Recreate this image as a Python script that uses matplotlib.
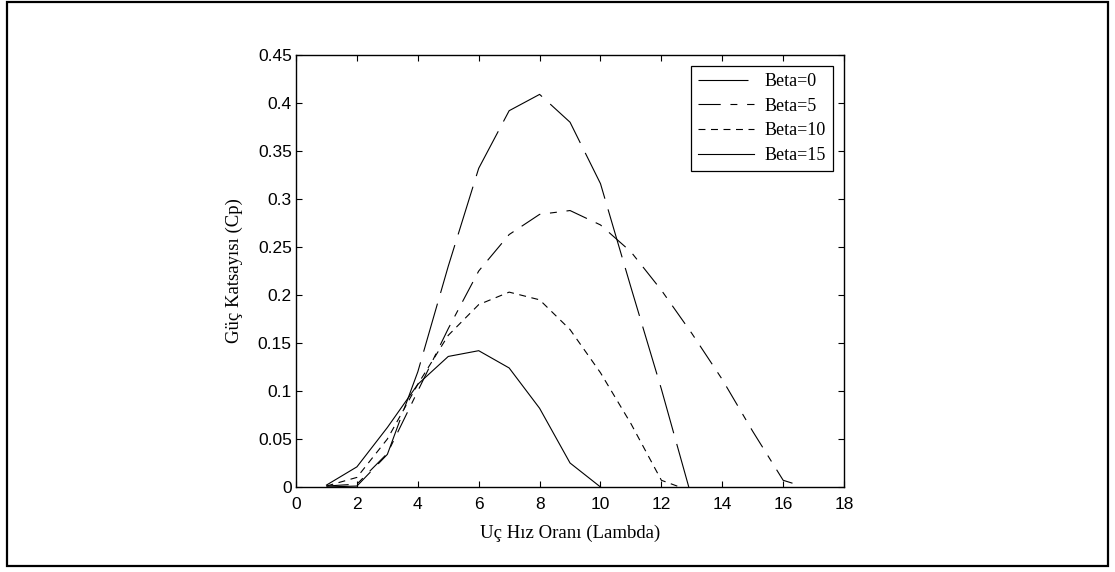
import matplotlib
matplotlib.use("Agg")
import matplotlib.pyplot as plt
from matplotlib.patches import Rectangle

# Cp vs tip speed ratio
lam_b0 = [1, 2, 3, 4, 5, 6, 7, 8, 9, 10, 11, 12, 12.9]
cp_b0 = [0.0, 0.001, 0.034, 0.12, 0.23, 0.332, 0.392, 0.409, 0.38, 0.316, 0.208, 0.102, 0.0]

lam_b5 = [1, 2, 3, 4, 5, 6, 7, 8, 9, 10, 11, 12, 13, 14, 15, 16, 16.6]
cp_b5 = [0.001, 0.003, 0.035, 0.1, 0.165, 0.225, 0.263, 0.284, 0.288, 0.273, 0.245,
         0.205, 0.16, 0.112, 0.058, 0.007, 0.001]

lam_b10 = [1, 2, 3, 4, 5, 6, 7, 8, 9, 10, 11, 12, 12.6]
cp_b10 = [0.001, 0.01, 0.05, 0.107, 0.158, 0.19, 0.203, 0.195, 0.164, 0.119, 0.066, 0.007, 0.0]

lam_b15 = [1, 2, 3, 4, 5, 6, 7, 8, 9, 10]
cp_b15 = [0.002, 0.021, 0.062, 0.107, 0.136, 0.142, 0.124, 0.082, 0.025, 0.0]

labels = ['Beta=0', 'Beta=5', 'Beta=10', 'Beta=15']

plt.rcParams['lines.scale_dashes'] = False

fig = plt.figure(figsize=(11.15, 5.72), dpi=100)
ax = fig.add_axes([0.2655, 0.1486, 0.4915, 0.7552])

lw = 0.8
ax.plot(lam_b0, cp_b0, color='k', lw=lw, dashes=(36, 8), label=labels[0])
ax.plot(lam_b5, cp_b5, color='k', lw=lw, dashes=(16, 7, 5, 7), label=labels[1])
ax.plot(lam_b10, cp_b10, color='k', lw=lw, dashes=(5, 4), label=labels[2])
ax.plot(lam_b15, cp_b15, color='k', lw=lw, linestyle='-', label=labels[3])

ax.set_xlim(0, 18)
ax.set_ylim(0, 0.45)
ax.set_xticks(range(0, 19, 2))
ax.set_yticks([0, 0.05, 0.1, 0.15, 0.2, 0.25, 0.3, 0.35, 0.4, 0.45])
ax.set_yticklabels(['0', '0.05', '0.1', '0.15', '0.2', '0.25', '0.3', '0.35', '0.4', '0.45'])
ax.tick_params(direction='in', top=True, right=True, length=4, width=0.8, labelsize=12.5)
ax.tick_params(axis='x', pad=7)
ax.tick_params(axis='y', pad=3)
for lbl in ax.get_xticklabels() + ax.get_yticklabels():
    lbl.set_family('Liberation Sans')
for s in ax.spines.values():
    s.set_linewidth(1.0)

ax.set_xlabel('Uç Hız Oranı (Lambda)', family='Liberation Serif', fontsize=13.5, labelpad=9)
ax.set_ylabel('Güç Katsayısı (Cp)', family='Liberation Serif', fontsize=13.5, labelpad=11)

leg = ax.legend(loc='upper right', prop={'family': 'Liberation Serif', 'size': 13},
                handlelength=3.1, handletextpad=0.6, labelspacing=0.42,
                fancybox=False, edgecolor='k', framealpha=1,
                borderaxespad=0.6, borderpad=0.4)
leg.get_frame().set_linewidth(0.9)

# outer frame around the whole figure
fig.patches.append(Rectangle((0.0063, 0.0105), 0.9874, 0.9860, transform=fig.transFigure,
                             fill=False, edgecolor='k', linewidth=1.6))

fig.savefig('out.png', dpi=100)
